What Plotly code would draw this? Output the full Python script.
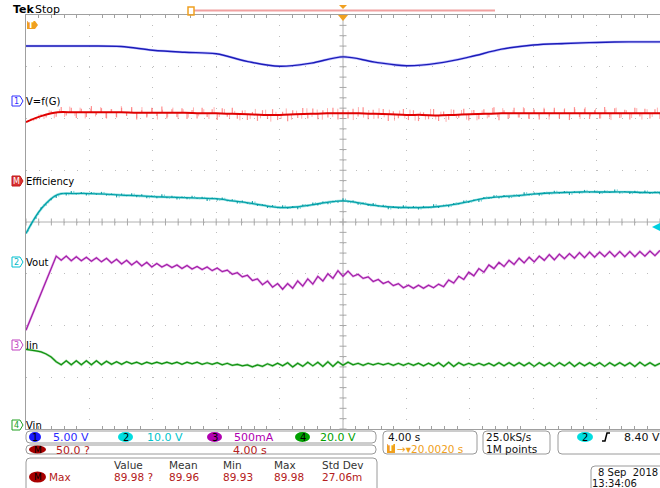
import numpy as np
import plotly.graph_objects as go

# ---------------- data (screen divisions, 4 s/div, trigger at centre) ----------------
blue_div = [3.40, 3.40, 3.40, 3.39, 3.32, 3.28, 3.25, 3.10, 3.01, 3.07, 3.19,
            3.09, 3.02, 3.07, 3.19, 3.34, 3.42, 3.45, 3.47, 3.48, 3.48]

red_div = [1.93, 2.05, 2.12, 2.12, 2.12, 2.12, 2.12, 2.11, 2.11, 2.11, 2.11,
           2.10, 2.10, 2.09, 2.08, 2.07, 2.07, 2.08, 2.09, 2.10, 2.10, 2.10,
           2.09, 2.08, 2.07, 2.07, 2.06, 2.07, 2.08, 2.09, 2.10, 2.10, 2.10,
           2.10, 2.10, 2.10, 2.10, 2.10, 2.10, 2.10, 2.10]

red_spike = [0, 0.03, -0.03, 0.04, -0.05, 0.06, -0.08, 0.10, -0.06, 0.09, -0.11, 0.07,
             -0.09, 0.12, -0.05, 0.08, -0.12, 0.06, -0.10, 0.09, -0.07, 0.11, -0.13, 0.05,
             -0.09, 0.10, -0.06, 0.12, -0.11, 0.07, -0.08, 0.09, -0.12, 0.06, -0.10, 0.11,
             -0.07, 0.08, -0.13, 0.10, -0.06, 0.12, -0.09, 0.07, -0.11, 0.05, -0.12, 0.09,
             -0.08, 0.11, -0.10, 0.06, -0.13, 0.08, -0.07, 0.12, -0.09, 0.10, -0.11, 0.06,
             -0.08, 0.11, -0.12, 0.07, -0.10, 0.09, -0.06, 0.12, -0.11, 0.08, -0.09, 0.10,
             -0.13, 0.06, -0.07, 0.11, -0.10, 0.09, -0.12, 0.05, -0.08, 0.12, -0.11, 0.07,
             -0.09, 0.10, -0.06, 0.11, -0.12, 0.08, -0.10, 0.09, -0.07, 0.12, -0.13, 0.06,
             -0.09, 0.11, -0.08, 0.10, -0.11, 0.07, -0.12, 0.09, -0.06, 0.11, -0.10, 0.08,
             -0.13, 0.12, -0.07, 0.09, -0.11, 0.06, -0.10, 0.12, -0.08, 0.10, -0.09, 0.07,
             -0.12, 0.11, -0.06, 0.09, -0.10, 0.08, -0.11]

red_spike2 = [0.02, -0.04, 0.05, -0.07, 0.08, -0.10, 0.06, -0.09, 0.11, -0.07, 0.09,
              -0.12, 0.07, -0.08, 0.10, -0.11, 0.06, -0.09, 0.12, -0.06, 0.08, -0.10, 0.11,
              -0.07, 0.09, -0.13, 0.06, -0.08, 0.10, -0.12, 0.07, -0.09, 0.11, -0.06, 0.08,
              -0.11, 0.12, -0.07, 0.09, -0.10, 0.06, -0.12, 0.08, -0.09, 0.11, -0.07, 0.10,
              -0.13, 0.06, -0.08, 0.12, -0.10, 0.07, -0.09, 0.11, -0.06, 0.08, -0.12, 0.10,
              -0.07, 0.09, -0.11, 0.06, -0.13, 0.12, -0.08, 0.07, -0.10, 0.11, -0.06, 0.09,
              -0.12, 0.08, -0.07, 0.10, -0.11, 0.06, -0.09, 0.12, -0.08, 0.07, -0.13, 0.11,
              -0.06, 0.09, -0.10, 0.08, -0.12, 0.07, -0.09, 0.11, -0.07, 0.10, -0.11, 0.06,
              -0.08, 0.12, -0.10, 0.09, -0.06, 0.11, -0.12, 0.07, -0.09, 0.10, -0.07, 0.08,
              -0.11, 0.12, -0.06, 0.09, -0.10, 0.07, -0.13, 0.11, -0.08, 0.06, -0.09, 0.10,
              -0.12, 0.08, -0.07, 0.11, -0.10]

cyan_div = [-0.22, 0.27, 0.53, 0.55, 0.55, 0.54, 0.52, 0.51, 0.49, 0.48, 0.47,
            0.46, 0.45, 0.41, 0.37, 0.32, 0.28, 0.29, 0.33, 0.38, 0.41, 0.37,
            0.32, 0.29, 0.28, 0.28, 0.30, 0.34, 0.40, 0.46, 0.49, 0.51, 0.54,
            0.56, 0.57, 0.58, 0.58, 0.58, 0.58, 0.57, 0.57]

cyan_noise = [0, 0.02, -0.03, 0.04, -0.02, 0.03, -0.04, 0.02, -0.03, 0.05, -0.02, 0.03,
              -0.04, 0.03, -0.02, 0.04, -0.03, 0.02, -0.05, 0.03, -0.02, 0.04, -0.03, 0.03,
              -0.04, 0.02, -0.03, 0.05, -0.02, 0.03, -0.04, 0.02, -0.03, 0.04, -0.02, 0.03,
              -0.05, 0.02, -0.03, 0.04, -0.02, 0.03, -0.04, 0.03, -0.02, 0.05, -0.03, 0.02,
              -0.04, 0.03, -0.02, 0.04, -0.03, 0.02, -0.05, 0.03, -0.02, 0.04, -0.03, 0.03,
              -0.04, 0.02, -0.03, 0.05, -0.02, 0.03, -0.04, 0.02, -0.03, 0.04, -0.02, 0.03,
              -0.05, 0.02, -0.03, 0.04, -0.02, 0.03, -0.04, 0.03, -0.02, 0.05, -0.03, 0.02,
              -0.04, 0.03, -0.02, 0.04, -0.03, 0.02, -0.05, 0.03, -0.02, 0.04, -0.03, 0.03,
              -0.04, 0.02, -0.03, 0.05, -0.02, 0.03, -0.04, 0.02, -0.03, 0.04, -0.02, 0.03,
              -0.05, 0.02, -0.03, 0.04, -0.02, 0.03, -0.04, 0.03, -0.02, 0.05, -0.03, 0.02,
              -0.04, 0.03, -0.02, 0.04, -0.03, 0.02, -0.04]

purple_div = [-2.09, -1.85, -1.60, -1.36, -1.11, -0.87,
              -0.66, -0.74, -0.66, -0.75, -0.67, -0.75, -0.68, -0.76, -0.69, -0.77,
              -0.70, -0.79, -0.72, -0.81, -0.74, -0.83, -0.76, -0.85, -0.78, -0.87,
              -0.80, -0.87, -0.82, -0.88, -0.83, -0.90, -0.84, -0.91, -0.86, -0.92,
              -0.87, -0.94, -0.89, -0.96, -0.93, -1.01, -0.98, -1.06, -1.03, -1.13, -1.10,
              -1.21, -1.14, -1.26, -1.19, -1.30, -1.19, -1.28, -1.14, -1.24, -1.10,
              -1.20, -1.05, -1.14, -1.00, -1.09, -0.94, -1.05, -0.95,
              -1.05, -1.01, -1.09, -1.06, -1.15, -1.11, -1.19, -1.15, -1.23, -1.19,
              -1.27, -1.22, -1.28, -1.22, -1.28, -1.22, -1.27, -1.20,
              -1.25, -1.12, -1.18, -1.05, -1.11, -0.97, -1.04, -0.90, -0.97, -0.83,
              -0.90, -0.78, -0.86, -0.74, -0.82, -0.70, -0.79, -0.68, -0.77, -0.66,
              -0.74, -0.63, -0.73, -0.62, -0.71, -0.61, -0.70, -0.59, -0.69, -0.58,
              -0.68, -0.58, -0.67, -0.57, -0.67, -0.57, -0.67, -0.57, -0.67, -0.57,
              -0.66, -0.56, -0.65, -0.55]

green_div = [-2.46, -2.47, -2.49, -2.51, -2.55, -2.61, -2.70,
             -2.76, -2.68, -2.76, -2.68, -2.76, -2.68, -2.76, -2.68, -2.76,
             -2.69, -2.75, -2.70, -2.75, -2.70, -2.74, -2.71, -2.75, -2.71, -2.74,
             -2.71, -2.74, -2.71, -2.74, -2.71, -2.75, -2.71, -2.74, -2.71, -2.75,
             -2.72, -2.75, -2.72, -2.76,
             -2.73, -2.77, -2.75, -2.78, -2.76, -2.80, -2.76, -2.79, -2.74, -2.78,
             -2.73, -2.78, -2.72, -2.80, -2.73, -2.79, -2.71, -2.78, -2.71, -2.79,
             -2.70, -2.79, -2.70, -2.77, -2.71,
             -2.76, -2.73, -2.77, -2.73, -2.76, -2.73, -2.76, -2.73, -2.77, -2.73,
             -2.77, -2.73, -2.77, -2.73, -2.78, -2.73, -2.78, -2.72,
             -2.79, -2.71, -2.79, -2.72, -2.77, -2.73, -2.77, -2.73, -2.77, -2.73,
             -2.78, -2.72, -2.78, -2.72, -2.78, -2.72, -2.78, -2.72, -2.79, -2.72,
             -2.78, -2.72, -2.79, -2.72, -2.78, -2.71, -2.79, -2.72, -2.78, -2.72,
             -2.78, -2.72, -2.79, -2.72, -2.78, -2.72, -2.78, -2.72, -2.79, -2.71,
             -2.78, -2.72, -2.78, -2.73]

channel_labels = ["V=f(G)", "Efficiency", "Vout", "Iin", "Vin"]
scale_labels = ["5.00 V", "10.0 V", "500mA", "20.0 V"]
meas_headers = ["Value", "Mean", "Min", "Max", "Std Dev"]
meas_values = ["89.98 ?", "89.96", "89.93", "89.98", "27.06m"]

# ---------------- geometry helpers (pixel -> paper) ----------------
FW, FH = 660, 488
L, R, T, B = 26, 660, 15, 429
W, H = R - L, B - T


def X(px):
    return (px - L) / W


def Y(py):
    return (B - py) / H


FONT = "DejaVu Sans"


def tgrid(vals):
    return np.linspace(-20, 20, len(vals))


fig = go.Figure()

# centre cross ticks (graticule)
fig.add_trace(go.Scatter(x=np.arange(-20, 20.01, 0.8), y=np.zeros(51), mode="markers",
                         marker=dict(symbol="line-ns", size=5, line=dict(width=1, color="#a8a8a8")),
                         hoverinfo="skip", showlegend=False))
fig.add_trace(go.Scatter(x=np.zeros(41), y=np.arange(-4, 4.01, 0.2), mode="markers",
                         marker=dict(symbol="line-ew", size=5, line=dict(width=1, color="#a8a8a8")),
                         hoverinfo="skip", showlegend=False))


def add_line(t, y, dark, light, wd=1.4, wl=3.0, shape="linear"):
    fig.add_trace(go.Scatter(x=t, y=y, mode="lines", line=dict(color=light, width=wl, shape=shape),
                             hoverinfo="skip", showlegend=False))
    fig.add_trace(go.Scatter(x=t, y=y, mode="lines", line=dict(color=dark, width=wd, shape=shape),
                             hoverinfo="skip", showlegend=False))


def add_spikes(t_base, vals, spikes, color, width, shift=0.0):
    ts = tgrid(spikes) + shift
    bs = np.interp(ts, t_base, vals)
    sx, sy = [], []
    for tt, b0, d in zip(ts, bs, spikes):
        sx += [tt, tt, None]
        sy += [b0, b0 + d, None]
    fig.add_trace(go.Scatter(x=sx, y=sy, mode="lines", line=dict(color=color, width=width),
                             hoverinfo="skip", showlegend=False))


# blue
add_line(tgrid(blue_div), blue_div, "#1c1cb8", "rgba(120,120,255,0.45)", 1.4, 2.6, "spline")

# red with spikes
t_red = tgrid(red_div)
add_spikes(t_red, red_div, red_spike, "rgba(255,80,80,0.65)", 1.2)
add_spikes(t_red, red_div, red_spike2, "rgba(255,110,110,0.55)", 1.0, shift=0.16)
fig.add_trace(go.Scatter(x=t_red, y=red_div, mode="lines", line=dict(color="#e00000", width=2, shape="spline"),
                         hoverinfo="skip", showlegend=False))

# cyan with noise
t_cy = tgrid(cyan_div)
add_line(t_cy, cyan_div, "#00a0a8", "rgba(80,205,205,0.5)", 1.3, 2.6, "spline")
add_spikes(t_cy, cyan_div, cyan_noise, "rgba(0,150,160,0.85)", 1.2)
add_spikes(t_cy, cyan_div, cyan_noise[::-1], "rgba(60,190,195,0.7)", 1.0, shift=0.16)
# purple
add_line(tgrid(purple_div), purple_div, "#a020a8", "rgba(220,120,220,0.6)", 1.2, 2.4)
# green
add_line(tgrid(green_div), green_div, "#109010", "rgba(110,200,110,0.6)", 1.2, 2.4)

shapes = []
ann = []


def txt(s, px, py, color="#111", size=11, anchor="left", family=FONT):
    ann.append(dict(text=s, x=X(px), y=Y(py), xref="paper", yref="paper", xanchor=anchor,
                    yanchor="middle", showarrow=False, borderpad=0,
                    font=dict(family=family, size=size, color=color)))


def rrect(x0, y0, x1, y1, r=4, color="#9a9a9a"):
    p = (f"M {X(x0 + r)},{Y(y0)} L {X(x1 - r)},{Y(y0)} Q {X(x1)},{Y(y0)} {X(x1)},{Y(y0 + r)} "
         f"L {X(x1)},{Y(y1 - r)} Q {X(x1)},{Y(y1)} {X(x1 - r)},{Y(y1)} "
         f"L {X(x0 + r)},{Y(y1)} Q {X(x0)},{Y(y1)} {X(x0)},{Y(y1 - r)} "
         f"L {X(x0)},{Y(y0 + r)} Q {X(x0)},{Y(y0)} {X(x0 + r)},{Y(y0)} Z")
    shapes.append(dict(type="path", path=p, xref="paper", yref="paper", line=dict(color=color, width=1)))


def oval(x0, x1, y0, y1, fill, label, tcolor="#000", size=10):
    shapes.append(dict(type="circle", xref="paper", yref="paper", x0=X(x0), x1=X(x1), y0=Y(y1), y1=Y(y0),
                       fillcolor=fill, line=dict(width=0)))
    txt(label, (x0 + x1) / 2, (y0 + y1) / 2, tcolor, size, "center")


def poly(pts, fill, line=None, width=0):
    p = "M " + " L ".join(f"{X(a)},{Y(b)}" for a, b in pts) + " Z"
    shapes.append(dict(type="path", path=p, xref="paper", yref="paper", fillcolor=fill,
                       line=dict(color=line or fill, width=width)))


# centre cross lines
shapes.append(dict(type="line", xref="x", yref="y", x0=0, x1=0, y0=-4, y1=4,
                   line=dict(color="#b0b0b0", width=1), layer="below"))
shapes.append(dict(type="line", xref="x", yref="y", x0=-20, x1=20, y0=0, y1=0,
                   line=dict(color="#b0b0b0", width=1), layer="below"))

# top header
txt("<b>Tek</b>", 12, 10, "#000", 11)
txt("Stop", 34, 10, "#000", 11)
shapes.append(dict(type="line", xref="paper", yref="paper", x0=X(194), x1=X(495), y0=Y(10.5), y1=Y(10.5),
                   line=dict(color="#f0a0a0", width=2)))
shapes.append(dict(type="rect", xref="paper", yref="paper", x0=X(188), x1=X(194), y0=Y(15), y1=Y(7),
                   line=dict(color="#f0a020", width=1.5)))
poly([(339, 5), (347, 5), (343, 9)], "#f0a020")
poly([(338, 15), (348, 15), (343, 21)], "#f0a020")
# trigger level marker (left, top)
poly([(27, 21), (35, 21), (38, 25), (35, 29), (27, 29)], "#f0a020")
txt("<b>T</b>", 31, 25, "#ffffff", 8, "center")
# trigger level marker on right
poly([(652, 227), (660, 223), (660, 231)], "#00d0e0")

# channel labels on left
label_cfg = [(101, "#3030ff", "#ffffff", "1", "#3030ff"),
             (181, "#c01818", "#d83030", "M", "#ffffff"),
             (262, "#00c0d0", "#ffffff", "2", "#00b8c8"),
             (345, "#c040c0", "#ffffff", "3", "#c040c0"),
             (425, "#20a020", "#ffffff", "4", "#20a020")]
for (yc, lc, fc, num, tc), name in zip(label_cfg, channel_labels):
    poly([(12, yc - 5), (20, yc - 5), (23, yc), (20, yc + 5), (12, yc + 5)], fc, lc, 1)
    txt(num, 16.5, yc, tc, 8, "center")
    txt(name, 25, yc, "#000", 10)

# bottom info boxes
rrect(26, 431, 376, 443)
rrect(26, 445, 376, 454)
rrect(26, 458, 377, 500)
rrect(383, 431, 477, 454)
rrect(483, 431, 550, 454)
rrect(558, 431, 668, 454)
rrect(591, 466, 668, 500)

row1 = [(29, 41, "#1a1aff", "1", 52, "#2a2aff"),
        (118, 133, "#00dde0", "2", 146, "#00c4cc"),
        (207, 222, "#b000b0", "3", 233, "#b000b0"),
        (295, 310, "#00a000", "4", 319, "#00a000")]
for (x0, x1, fc, num, tx, tcol), s in zip(row1, scale_labels):
    oval(x0, x1, 432, 442, fc, num, "#000", 10)
    txt(s, tx, 437, tcol, 11)

oval(29, 46, 445.5, 453.5, "#a80000", "M", "#000", 9)
txt("50.0 ?", 55, 450, "#b42020", 11)
txt("4.00 s", 232, 450, "#b42020", 11)

hx = [113, 168, 222, 273, 321]
for s, x in zip(meas_headers, hx):
    txt(s, x, 465, "#333", 10.5)
for s, x in zip(meas_values, hx):
    txt(s, x, 477, "#b42020", 10.5)
oval(29, 46, 471.5, 482.5, "#a80000", "M", "#000", 9)
txt("Max", 48, 477, "#b42020", 10.5)

txt("4.00 s", 387, 437, "#111", 10.5)
shapes.append(dict(type="rect", xref="paper", yref="paper", x0=X(387), x1=X(395), y0=Y(453), y1=Y(444),
                   fillcolor="#f0a020", line=dict(width=0)))
txt("<b>T</b>", 391, 448.5, "#ffffff", 8, "center")
txt("→▾20.0020 s", 396, 448.5, "#f0a020", 10.5)
txt("25.0kS/s", 485, 437, "#111", 10.5)
txt("1M points", 485, 448.5, "#111", 10.5)
oval(577, 593, 432, 442, "#00dde0", "2", "#000", 10)
shapes.append(dict(type="path", xref="paper", yref="paper",
                   path=f"M {X(602)},{Y(441)} L {X(605)},{Y(441)} L {X(607)},{Y(433)} L {X(610)},{Y(433)}",
                   line=dict(color="#000", width=1.5)))
txt("8.40 V", 623, 437, "#111", 11)
txt("8 Sep  2018", 597, 472, "#111", 10)
txt("13:34:06", 591, 483.5, "#111", 10)

fig.update_layout(
    width=FW, height=FH, autosize=False,
    margin=dict(l=L, r=FW - R, t=T, b=FH - B, pad=0),
    paper_bgcolor="white", plot_bgcolor="white",
    showlegend=False,
    font=dict(family=FONT, size=11, color="#111"),
    xaxis=dict(range=[-20, 20], dtick=4, tick0=-20, showgrid=True, gridcolor="#bdbdbd", gridwidth=1,
               griddash="1px,9.35px", showticklabels=False, ticks="", zeroline=False,
               showline=True, linecolor="#a0a0a0", linewidth=1, mirror="allticks",
               minor=dict(dtick=0.8, tick0=-20, ticks="inside", ticklen=3, tickcolor="#a0a0a0",
                          showgrid=False)),
    yaxis=dict(range=[-4, 4], dtick=1, tick0=-4, showgrid=True, gridcolor="#bdbdbd", gridwidth=1,
               griddash="1px,11.68px", showticklabels=False, ticks="", zeroline=False,
               showline=True, linecolor="#a0a0a0", linewidth=1, mirror=True),
    shapes=shapes,
    annotations=ann,
)

fig.write_html("out.html", config={"displayModeBar": False},
               post_script="document.body.style.margin='0px';document.body.style.overflow='hidden';")
